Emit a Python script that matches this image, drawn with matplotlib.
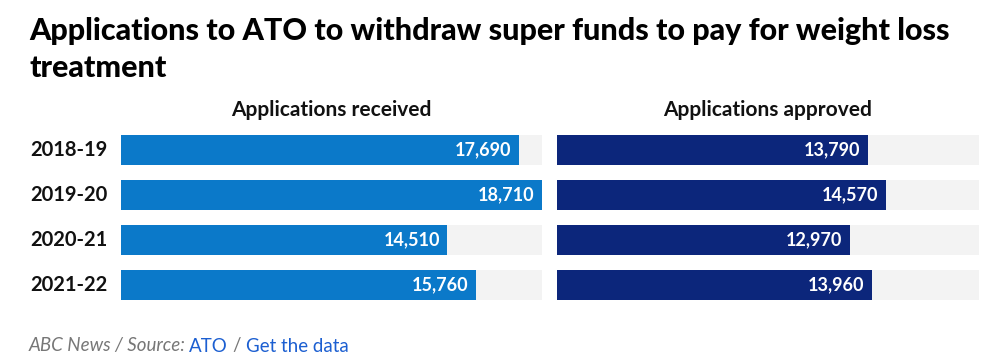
import matplotlib.pyplot as plt
from matplotlib import font_manager

# Data
years = ["2018-19", "2019-20", "2020-21", "2021-22"]
received = [17690, 18710, 14510, 15760]
approved = [13790, 14570, 12970, 13960]
panel_titles = ["Applications received", "Applications approved"]

names = {f.name for f in font_manager.fontManager.ttflist}
fam = "Lato" if "Lato" in names else "DejaVu Sans"
plt.rcParams['font.family'] = [fam, 'DejaVu Sans']

W, H = 981, 356
fig = plt.figure(figsize=(W / 100, H / 100), dpi=100)
fig.patch.set_facecolor("white")

# Title
fig.text(29 / W, 1 - 31 / H, "Applications to ATO to withdraw super funds to pay for weight loss",
         fontsize=22, fontweight="black", va="center", ha="left", color="black")
fig.text(29 / W, 1 - 68 / H, "treatment",
         fontsize=22, fontweight="black", va="center", ha="left", color="black")

vmax = max(received + approved)
panels = [
    (121, 421, received, "#0b79c9", panel_titles[0]),
    (557, 422, approved, "#0c267b", panel_titles[1]),
]

for left, width, vals, col, ttl in panels:
    ax = fig.add_axes([left / W, 1 - 307.5 / H, width / W, 180 / H])
    ypos = range(len(years))
    ax.barh(ypos, [vmax] * len(years), height=0.667, color="#f3f3f3", linewidth=0)
    ax.barh(ypos, vals, height=0.667, color=col, linewidth=0)
    for y, v in zip(ypos, vals):
        ax.text(v - vmax * 0.018, y, f"{v:,}", color="white", fontsize=13,
                fontweight="bold", ha="right", va="center")
    ax.set_xlim(0, vmax)
    ax.set_ylim(len(years) - 0.5, -0.5)
    ax.axis("off")
    fig.text((left + width / 2) / W, 1 - 110 / H, ttl, fontsize=15,
             fontweight="bold", ha="center", va="center", color="#111111")

for i, yr in enumerate(years):
    fig.text(30 / W, 1 - (150 + 45 * i) / H, yr, fontsize=14.5, fontweight="bold",
             ha="left", va="center", color="#111111")

# Footer
t = fig.text(29 / W, 1 - 346 / H, "ABC News / Source:", fontsize=13.5, style="italic",
             color="#777777", ha="left", va="center")
fig.canvas.draw()
r = fig.canvas.get_renderer()
x = t.get_window_extent(r).x1 + 3
parts = [("ATO", "#1c5fd1"), ("/", "#777777"), ("Get the data", "#1c5fd1")]
for s, c in parts:
    tt = fig.text(x / W, 1 - 346 / H, s, fontsize=13.5, color=c, ha="left", va="center")
    x = tt.get_window_extent(r).x1 + 5

fig.savefig("out.png", dpi=100)
